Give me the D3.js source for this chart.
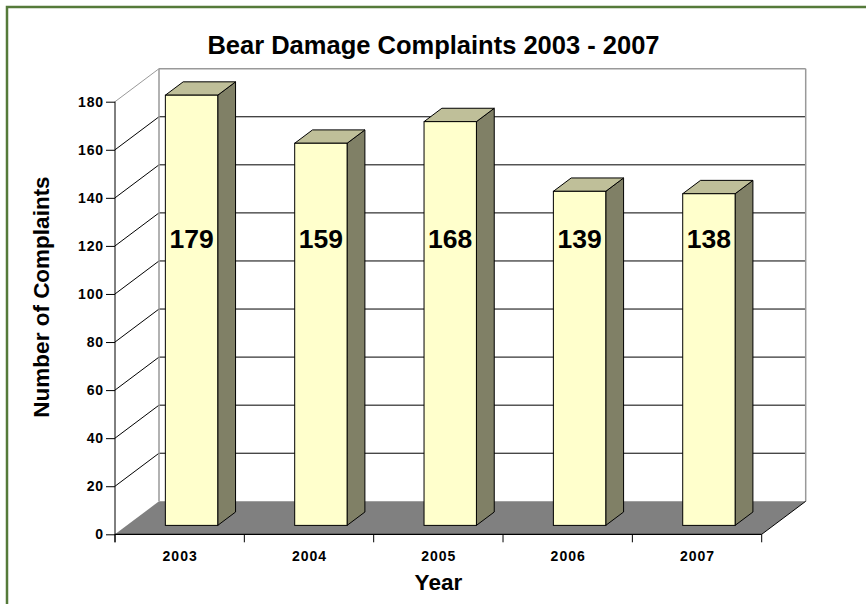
<!DOCTYPE html>
<html>
<head>
<meta charset="utf-8">
<script src="https://cdn.jsdelivr.net/npm/d3@7"></script>
<style>
  html, body { margin: 0; padding: 0; background: #fff; }
  svg { display: block; font-family: Arial, "Liberation Sans", sans-serif; }
</style>
</head>
<body>
<svg id="chart" width="866" height="604"></svg>
<script>
// ---- data ----
const years = ["2003", "2004", "2005", "2006", "2007"];
const complaints = [179, 159, 168, 139, 138];
const yTicks = [0, 20, 40, 60, 80, 100, 120, 140, 160, 180];
const titleText = "Bear Damage Complaints 2003 - 2007";
const xTitle = "Year";
const yTitle = "Number of Complaints";

// ---- layout ----
const W = 866, H = 604;
const pL = 115, pR = 761.7, pB = 534.3, pT = 101.7;
const DX = 44, DY = -33;           // depth of the 3D box
const barFront = 0.27, barBack = 0.675; // depth positions of bars
const barFrac = 0.405;

const svg = d3.select("#chart");

// outer border
svg.append("rect").attr("x", 7).attr("y", 7).attr("width", W).attr("height", H)
  .attr("fill", "none").attr("stroke", "#557a3a").attr("stroke-width", 2.5);

const x = d3.scaleBand().domain(years).range([pL, pR]).padding(0);
const y = d3.scaleLinear().domain([0, 180]).range([pB, pT]);

const g = svg.append("g");

// floor
g.append("polygon")
  .attr("points", [[pL, pB], [pR, pB], [pR + DX, pB + DY], [pL + DX, pB + DY]].join(" "))
  .attr("fill", "#808080").attr("stroke", "none");

// gridlines: left wall diagonals + back wall horizontals
yTicks.filter(v => v > 0).forEach(v => {
  const yy = y(v);
  const col = v === 180 ? "#999" : "#000";
  g.append("line").attr("x1", pL).attr("y1", yy).attr("x2", pL + DX).attr("y2", yy + DY)
    .attr("stroke", col).attr("stroke-width", 1);
  g.append("line").attr("x1", pL + DX).attr("y1", yy + DY).attr("x2", pR + DX).attr("y2", yy + DY)
    .attr("stroke", col).attr("stroke-width", v === 180 ? 1.5 : 1);
});
// back wall verticals
g.append("line").attr("x1", pL + DX).attr("y1", pB + DY).attr("x2", pL + DX).attr("y2", pT + DY)
  .attr("stroke", "#999").attr("stroke-width", 1.5);
g.append("line").attr("x1", pR + DX).attr("y1", pB + DY).attr("x2", pR + DX).attr("y2", pT + DY)
  .attr("stroke", "#999").attr("stroke-width", 1.5);

// floor right edge
g.append("line").attr("x1", pR).attr("y1", pB).attr("x2", pR + DX).attr("y2", pB + DY)
  .attr("stroke", "#000").attr("stroke-width", 1);

// bars
const step = x.bandwidth();
const bw = step * barFrac;
const ox = DX * barFront, oy = DY * barFront;
const ddx = DX * (barBack - barFront), ddy = DY * (barBack - barFront);

years.forEach((yr, i) => {
  const v = complaints[i];
  const cx = x(yr) + step / 2 + ox;
  const x0 = cx - bw / 2, x1 = cx + bw / 2;
  const yb = y(0) + oy, yt = y(v) + oy;
  const bar = g.append("g");
  // side
  bar.append("polygon")
    .attr("points", [[x1, yb], [x1 + ddx, yb + ddy], [x1 + ddx, yt + ddy], [x1, yt]].join(" "))
    .attr("fill", "#808066").attr("stroke", "#000").attr("stroke-width", 1).attr("stroke-linejoin", "round");
  // top
  bar.append("polygon")
    .attr("points", [[x0, yt], [x0 + ddx, yt + ddy], [x1 + ddx, yt + ddy], [x1, yt]].join(" "))
    .attr("fill", "#bfbf99").attr("stroke", "#000").attr("stroke-width", 1).attr("stroke-linejoin", "round");
  // front
  bar.append("rect").attr("x", x0).attr("y", yt).attr("width", bw).attr("height", yb - yt)
    .attr("fill", "#ffffcc").attr("stroke", "#000").attr("stroke-width", 1);
  // value label
  bar.append("text").attr("x", cx).attr("y", 248.3)
    .attr("text-anchor", "middle").attr("font-size", 26.5).attr("font-weight", "bold")
    .attr("fill", "#000").text(v);
});

// y axis (front)
const yAxis = d3.axisLeft(y).tickValues(yTicks).tickSize(9).tickPadding(3);
const ya = svg.append("g").attr("transform", `translate(${pL},0)`).call(yAxis);
ya.select(".domain").attr("stroke", "#000").attr("d", `M0,${pT}V${pB + 8}`);
ya.selectAll(".tick line").attr("stroke", "#000");
ya.selectAll(".tick text").attr("font-size", 14).attr("font-weight", "bold")
  .attr("font-family", "Arial, 'Liberation Sans', sans-serif").attr("letter-spacing", 0.8)
  .attr("fill", "#000").attr("dx", 0.8);

// x axis (front)
const xa = svg.append("g");
xa.append("line").attr("x1", pL).attr("y1", pB).attr("x2", pR).attr("y2", pB)
  .attr("stroke", "#000").attr("stroke-width", 1.2);
const boundaries = years.map(d => x(d)).concat([pR]);
xa.selectAll("line.xt").data(boundaries).enter().append("line")
  .attr("x1", d => d).attr("x2", d => d).attr("y1", pB).attr("y2", pB + 8)
  .attr("stroke", "#000");
xa.selectAll("text").data(years).enter().append("text")
  .attr("x", d => x(d) + step / 2 + 0.5).attr("y", 561)
  .attr("text-anchor", "middle").attr("font-size", 14).attr("font-weight", "bold")
  .attr("letter-spacing", 1).attr("fill", "#000").text(d => d);

// titles
svg.append("text").attr("x", 433.5).attr("y", 53.5).attr("text-anchor", "middle")
  .attr("font-size", 25.5).attr("font-weight", "bold").attr("fill", "#000").text(titleText);
svg.append("text").attr("x", 438.4).attr("y", 590).attr("text-anchor", "middle")
  .attr("font-size", 22.5).attr("font-weight", "bold").attr("fill", "#000").text(xTitle);
svg.append("text").attr("transform", "translate(49,297) rotate(-90)").attr("text-anchor", "middle")
  .attr("font-size", 22.5).attr("font-weight", "bold").attr("fill", "#000").text(yTitle);
</script>
</body>
</html>
